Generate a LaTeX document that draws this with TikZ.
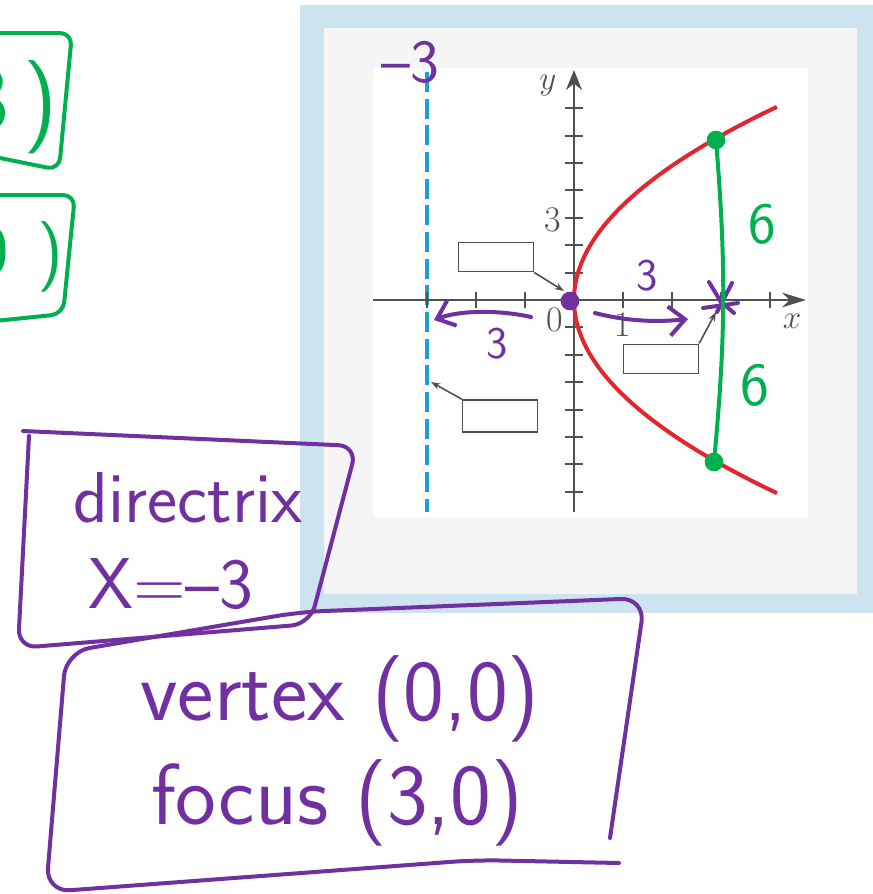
\documentclass[tikz,border=0pt]{standalone}
\usepackage{tikz}
\usetikzlibrary{arrows.meta}

\definecolor{inkpurple}{RGB}{112,48,160}
\definecolor{inkgreen}{RGB}{0,176,80}
\definecolor{curvered}{RGB}{226,38,48}
\definecolor{dirblue}{RGB}{30,158,212}
\definecolor{frameblue}{RGB}{205,227,240}
\definecolor{panelgray}{RGB}{245,245,245}
\definecolor{axisgray}{RGB}{80,80,80}

\begin{document}
\begin{tikzpicture}[
  x=0.75pt, y=-0.75pt,
  ink/.style={draw=inkpurple, line width=3pt, line cap=round, line join=round},
  gink/.style={draw=inkgreen, line width=3pt, line cap=round, line join=round},
  hand/.style={font=\sffamily\fontsize{#1}{#1}\selectfont, inner sep=0pt, anchor=base},
  blob/.style={circle, inner sep=0pt, minimum size=14pt},
  emptybox/.style={draw=axisgray, line width=1.2pt, fill=white, minimum width=56pt, minimum height=22pt, inner sep=0pt},
  leader/.style={draw=axisgray, line width=1.2pt, -{Stealth[length=7pt,width=5pt]}},
  axislab/.style={font=\fontsize{27}{30}\selectfont, text=axisgray, inner sep=0pt},
  >=Stealth
]
  \useasboundingbox (0,0) rectangle (873,894);

  % Textbook figure
  \fill[frameblue] (300,5) rectangle (873,613);
  \fill[panelgray] (324,28) rectangle (857,594);
  \fill[white] (373,68) rectangle (808,517);

  % Directrix
  \draw[dirblue, line width=3pt, dash pattern=on 15pt off 5pt] (427,72) -- (427,512);

  % Axes and ticks
  \draw[axisgray, line width=1.8pt, -{Stealth[length=18pt,width=11pt]}] (373,300) -- (806,300);
  \draw[axisgray, line width=1.8pt, -{Stealth[length=15pt,width=12pt]}] (574,512) -- (574,70);
  \foreach \i in {-3,-2,-1,1,2,3,4} {
    \draw[axisgray, line width=1.4pt] (574+49*\i,292) -- (574+49*\i,308);
  }
  \foreach \j in {-7,-6,-5,-4,-3,-2,-1,1,2,3,4,5,6,7} {
    \draw[axisgray, line width=1.4pt] (565,300-27.4*\j) -- (583,300-27.4*\j);
  }
  \node[axislab] (ylab) at (548,86) {$y$};
  \node[axislab] (lab3) at (553,220) {3};
  \node[axislab] (lab0) at (555,320) {0};
  \node[axislab] (lab1) at (623,325) {1};
  \node[axislab] (xlab) at (792,321) {$x$};

  % Parabola
  \draw[curvered, line width=3pt] plot[domain=-7.05:7.05, samples=80, smooth] ({574+49*(\x)^2/12},{300-27.4*\x});

  % Empty label boxes
  \node[emptybox] (bxvertex) at (496,257) {};
  \node[emptybox] (bxfocus) at (661,359) {};
  \node[emptybox, minimum height=24pt] (bxdirec) at (500,416) {};
  \coordinate (vtip) at (564,291);
  \coordinate (ftip) at (716,312);
  \coordinate (dtip) at (431,382);
  \draw[leader] (bxvertex.south east) -- (vtip);
  \draw[leader] (bxfocus.north east) -- (ftip);
  \draw[leader] (bxdirec.north west) -- (dtip);

  % Purple notes on the figure
  \node[hand=46, text=inkpurple] (dirnum) at (410,82) {\textendash3};
  \node[blob, fill=inkpurple] (vdot) at (570,301) {};
  \coordinate (ra) at (595,313);
  \coordinate (rb) at (688,319);
  \coordinate (la) at (531,317);
  \coordinate (lb) at (434,320);
  \draw[ink, -{Straight Barb[length=12pt,width=22pt]}] (ra) .. controls (630,322) and (660,322) .. (rb);
  \draw[ink, -{Straight Barb[length=12pt,width=20pt]}] (la) .. controls (500,310) and (460,310) .. (lb);
  \node[hand=34, text=inkpurple] (dfoc) at (647,290) {3};
  \node[hand=34, text=inkpurple] (ddir) at (497,358) {3};
  \draw[ink] (709,282) -- (721,302) (732,283) -- (717,312) (703,308) -- (738,303) (720,301) -- (734,313);

  % Green latus rectum
  \node[blob, fill=inkgreen] (gtop) at (716,140) {};
  \node[blob, fill=inkgreen] (gbot) at (714,462) {};
  \draw[gink] (gtop.center) to[bend left=5] (gbot.center);
  \node[hand=44, text=inkgreen] (sixup) at (762,243) {6};
  \node[hand=46, text=inkgreen] (sixdown) at (755,405) {6};

  % Green boxes at the left edge
  \draw[gink, rounded corners=9pt] (-5,33) -- (72,33) -- (59,170) -- (-5,157);
  \draw[gink, rounded corners=9pt] (-5,195) -- (75,195) -- (63,314) -- (-5,321);
  \node[hand=70, text=inkgreen, anchor=base east] (parA) at (58,130) {3\kern11pt)};
  \node[hand=53, text=inkgreen, anchor=base east] (parB) at (64,274) {0\kern22pt)};

  % Purple boxes
  \draw[ink, rounded corners=14pt] (29,436) -- (18,648) -- (310,624) -- (357,446) -- (23,431);
  \node[hand=54, text=inkpurple] (dirword) at (188,522) {directrix};
  \node[hand=54, text=inkpurple] (direq) at (171,608) {X=\textendash3};
  \draw[ink, rounded corners=18pt] (619,863) -- (476,860) -- (46,892) -- (66,652) -- (300,612) -- (645,598) -- (610,838);
  \node[hand=65, text=inkpurple] (vtxline) at (340,720) {vertex (0,0)};
  \node[hand=65, text=inkpurple] (focline) at (337,824) {focus (3,0)};
\end{tikzpicture}
\end{document}
